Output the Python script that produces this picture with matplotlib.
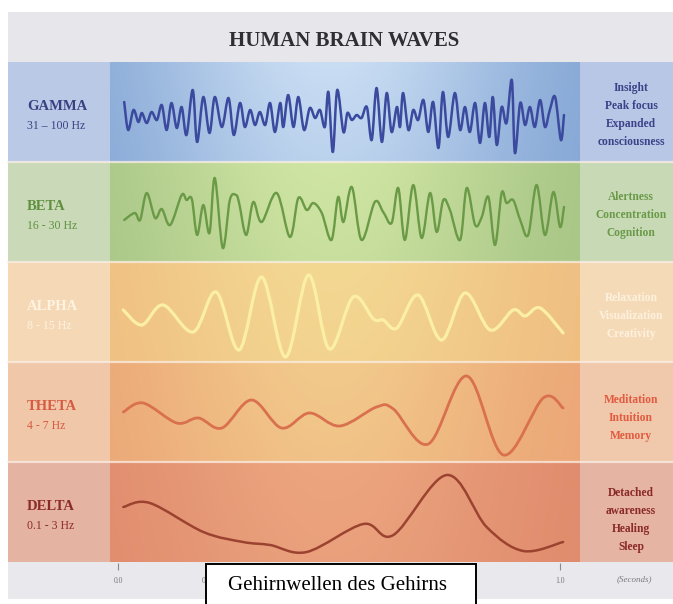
import numpy as np
import matplotlib
matplotlib.use("Agg")
import matplotlib.pyplot as plt
from matplotlib.path import Path
from matplotlib.patches import PathPatch, Rectangle

# ---------------- data ----------------
title = "HUMAN BRAIN WAVES"
caption = "Gehirnwellen des Gehirns"
band_names = ["GAMMA", "BETA", "ALPHA", "THETA", "DELTA"]
band_ranges = ["31 – 100 Hz", "16 - 30 Hz", "8 - 15 Hz", "4 - 7 Hz", "0.1 - 3 Hz"]
band_states = [
    ["Insight", "Peak focus", "Expanded", "consciousness"],
    ["Alertness", "Concentration", "Cognition"],
    ["Relaxation", "Visualization", "Creativity"],
    ["Meditation", "Intuition", "Memory"],
    ["Detached", "awareness", "Healing", "Sleep"],
]
time_ticks = [0.0, 0.2, 0.4, 0.6, 0.8, 1.0]
# 0.4 and 0.6 sit fully under the caption box in the reference
time_tick_labels = ["0.0", "0.2", "", "", "0.8", "1.0"]
time_unit = "(Seconds)"

gamma_t = [0.014, 0.023, 0.035, 0.046, 0.054, 0.065, 0.076, 0.088, 0.099, 0.110,
           0.121, 0.133, 0.144, 0.155, 0.169, 0.179, 0.193, 0.207, 0.219, 0.235,
           0.250, 0.262, 0.276, 0.287, 0.299, 0.310, 0.321, 0.333, 0.344, 0.355,
           0.367, 0.374, 0.385, 0.397, 0.408, 0.421, 0.434, 0.446, 0.457, 0.468,
           0.476, 0.486, 0.496, 0.510, 0.519, 0.529, 0.540, 0.551, 0.563, 0.574,
           0.585, 0.597, 0.608, 0.619, 0.631, 0.638, 0.645, 0.657, 0.668, 0.679,
           0.691, 0.702, 0.713, 0.725, 0.735, 0.747, 0.762, 0.774, 0.785, 0.796,
           0.808, 0.819, 0.830, 0.840, 0.848, 0.857, 0.868, 0.879, 0.891, 0.898,
           0.910, 0.921, 0.932, 0.943, 0.955, 0.966, 0.977, 0.989, 1.002, 1.009]
gamma_a = [10, -18, 2, -10, -1, -11, 0, -8, 7, -18,
           9, -16, 5, -23, 22, -30, 15, -21, 15, -15,
           14, -23, 9, -15, 2, -13, 0, -13, 9, -20,
           9, -15, 17, -15, 15, -18, 4, -6, 2, -15,
           20, -40, 22, -20, -1, -8, -3, -6, 5, -28,
           24, -30, 19, -20, 5, -15, 19, -18, 2, -8,
           12, -20, 10, -36, 20, -25, 19, -18, 5, -20,
           9, -31, 9, -25, 15, -33, 5, -11, 32, -41,
           9, -13, 5, -15, 12, -15, 2, 15, -28, -3]

beta_t = [0.014, 0.038, 0.050, 0.065, 0.084, 0.099, 0.118, 0.144, 0.155, 0.167,
          0.179, 0.193, 0.207, 0.219, 0.237, 0.253, 0.267, 0.274, 0.290, 0.306,
          0.325, 0.359, 0.389, 0.408, 0.427, 0.442, 0.461, 0.483, 0.498, 0.510,
          0.529, 0.551, 0.581, 0.600, 0.619, 0.634, 0.649, 0.668, 0.687, 0.706,
          0.721, 0.736, 0.751, 0.774, 0.789, 0.808, 0.823, 0.838, 0.853, 0.868,
          0.879, 0.894, 0.910, 0.928, 0.947, 0.966, 0.985, 1.000, 1.009]
beta_a = [-8, -1, -8, 19, -6, 3, -13, 17, 12, 13,
          -23, 7, -21, 34, -36, 12, 17, 9, -23, 10,
          -10, 19, -25, 14, 2, 9, -1, -28, 15, -10,
          25, -28, 10, 0, -11, 24, -28, 27, -26, 19,
          -20, 12, 2, -28, 24, -13, -5, 15, -33, 19,
          9, 12, -8, -23, 27, -23, 20, -15, 5]

alpha_t = [0.012, 0.054, 0.102, 0.170, 0.222, 0.274, 0.325, 0.379, 0.431, 0.478,
           0.532, 0.578, 0.600, 0.631, 0.679, 0.732, 0.785, 0.842, 0.894, 0.921,
           0.955, 1.007]
alpha_a = [2, -13, 7, -20, 20, -38, 35, -45, 37, -37,
           15, -7, -8, -16, 17, -28, 19, -18, 2, -4,
           4, -21]

theta_t = [0.012, 0.057, 0.133, 0.182, 0.235, 0.302, 0.370, 0.433, 0.502, 0.585,
           0.623, 0.702, 0.789, 0.872, 0.962, 1.007]
theta_a = [0, 9, -11, -6, -16, 12, -16, -1, -14, 5,
           3, -32, 36, -43, 14, 4]

delta_t = [0.012, 0.072, 0.193, 0.283, 0.344, 0.427, 0.555, 0.623, 0.744, 0.834,
           0.917, 1.007]
delta_a = [5, 9, -20, -30, -33, -40, -12, -23, 37, -15, -39, -30]

waves_t = [gamma_t, beta_t, alpha_t, theta_t, delta_t]
waves_a = [gamma_a, beta_a, alpha_a, theta_a, delta_a]

# ---------------- styles ----------------
W, H = 673, 604
SERIF = ["Liberation Serif", "DejaVu Serif"]
left_cols = ["#b9c9e6", "#cadab8", "#f5d9b6", "#f0c7a9", "#e5b3a1"]
right_cols = ["#b8c7e6", "#c8d9b6", "#f5dab8", "#f0c8ab", "#e5b4a3"]
edge_cols = ["#7ea1d2", "#a3c283", "#efbb80", "#eba275", "#de886b"]
mid_cols = ["#c9ddf3", "#d0e5a3", "#f3d892", "#f2c98b", "#eca57f"]
line_cols = ["#3b4a9e", "#6b9a47", "#fbefa6", "#d9704e", "#9b4330"]
line_w = [1.8, 1.7, 2.3, 2.0, 1.8]
name_cols = ["#3b4080", "#5f9040", "#fff3e2", "#d55a42", "#8c2b2b"]
state_cols = ["#3b4288", "#6a9a48", "#fdf1de", "#e25a40", "#8a2a28"]
state_offsets = [3, 3, 4, 6, 8]

fig = plt.figure(figsize=(W / 100, H / 100), dpi=100)
fig.patch.set_facecolor("white")


def px_axes(x0, y0, x1, y1, **kw):
    return fig.add_axes([x0 / W, 1 - y1 / H, (x1 - x0) / W, (y1 - y0) / H], **kw)


def hexrgb(h):
    h = h.lstrip("#")
    return np.array([int(h[i:i + 2], 16) / 255 for i in (0, 2, 4)])


def smooth_path(t, a):
    P = np.column_stack([t, a]).astype(float)
    n = len(P)
    verts = [P[0]]
    codes = [Path.MOVETO]
    for i in range(n - 1):
        p0 = P[max(i - 1, 0)]
        p1 = P[i]
        p2 = P[i + 1]
        p3 = P[min(i + 2, n - 1)]
        verts += [p1 + (p2 - p0) / 6, p2 - (p3 - p1) / 6, p2]
        codes += [Path.CURVE4] * 3
    return Path(verts, codes)


# background axes in pixel units
bg = fig.add_axes([0, 0, 1, 1])
bg.set_xlim(0, W)
bg.set_ylim(H, 0)
bg.axis("off")
bg.add_patch(Rectangle((8, 12), W - 8, 50, color="#e7e7eb", lw=0))
bg.add_patch(Rectangle((8, 562), W - 8, 37, color="#e9e9ed", lw=0))
bg.text(344, 41, title, ha="center", va="center", fontsize=15,
        fontweight="bold", family=SERIF, color="#2f2f33")

# panel geometry (pixels)
X0, X1 = 110, 580
T0, T1 = 118, 560  # pixel positions of t = 0 s and t = 1 s
PX_PER_S = T1 - T0
xlim = ((X0 - T0) / PX_PER_S, (X1 - T0) / PX_PER_S)

for i in range(5):
    top = 62 + 100 * i
    bg.add_patch(Rectangle((8, top), X0 - 8, 100, color=left_cols[i], lw=0))
    bg.add_patch(Rectangle((X1, top), W - X1, 100, color=right_cols[i], lw=0))
    bg.text(27, top + 44, band_names[i], ha="left", va="center", fontsize=10.5,
            fontweight="bold", family=SERIF, color=name_cols[i])
    bg.text(27, top + 64, band_ranges[i], ha="left", va="center", fontsize=8.5,
            family=SERIF, color=name_cols[i])
    states = band_states[i]
    n = len(states)
    for k, s in enumerate(states):
        y = top + 50 + state_offsets[i] + (k - (n - 1) / 2) * 18
        bg.text(631, y, s, ha="center", va="center", fontsize=8.3,
                fontweight="bold", family=SERIF, color=state_cols[i])

    ax = px_axes(X0, top, X1, top + 100)
    ax.set_xlim(*xlim)
    ax.set_ylim(-50, 50)
    ax.axis("off")
    u = np.linspace(0, 1, 300)
    prof = np.exp(-((u - 0.47) / 0.40) ** 2)
    ce, cm = hexrgb(edge_cols[i]), hexrgb(mid_cols[i])
    row = ce[None, :] + (cm - ce)[None, :] * prof[:, None]
    v = np.linspace(0, 1, 60)
    vfac = 1.0 - 0.18 * v
    img = np.clip(ce[None, None, :] + (row[None, :, :] - ce[None, None, :]) * vfac[:, None, None], 0, 1)
    ax.imshow(img, extent=(xlim[0], xlim[1], -50, 50), aspect="auto",
              origin="upper", interpolation="bilinear", zorder=0)
    ax.add_patch(PathPatch(smooth_path(waves_t[i], waves_a[i]), facecolor="none",
                           edgecolor=line_cols[i], lw=line_w[i], zorder=3,
                           capstyle="round", joinstyle="round"))

# separators between bands
sep = fig.add_axes([0, 0, 1, 1], zorder=5)
sep.set_xlim(0, W)
sep.set_ylim(H, 0)
sep.axis("off")
for i in range(1, 5):
    sep.plot([8, W], [62 + 100 * i] * 2, color="#fbefe6", lw=1.6, alpha=0.75)

# time axis
tax = px_axes(X0, 562, X1, 563)
tax.set_xlim(*xlim)
tax.set_facecolor("none")
for s in tax.spines.values():
    s.set_visible(False)
tax.set_yticks([])
tax.set_xticks(time_ticks)
tax.set_xticklabels(time_tick_labels, family=SERIF)
tax.tick_params(axis="x", direction="out", length=5, width=0.8, color="#8a8a8e",
                labelsize=5.5, labelcolor="#77777b", pad=5)
bg.text(634, 579, time_unit, ha="center", va="center", fontsize=6.5,
        style="italic", family=SERIF, color="#7a7a80")

# caption box on top
ov = fig.add_axes([0, 0, 1, 1], zorder=10)
ov.set_xlim(0, W)
ov.set_ylim(H, 0)
ov.axis("off")
ov.patch.set_alpha(0)
ov.add_patch(Rectangle((205.5, 563.5), 270, 50, facecolor="white",
                       edgecolor="black", lw=1.4))
ov.text(337, 585, caption, ha="center", va="center", fontsize=15,
        family=SERIF, color="black")

fig.savefig("out.png", dpi=100)
